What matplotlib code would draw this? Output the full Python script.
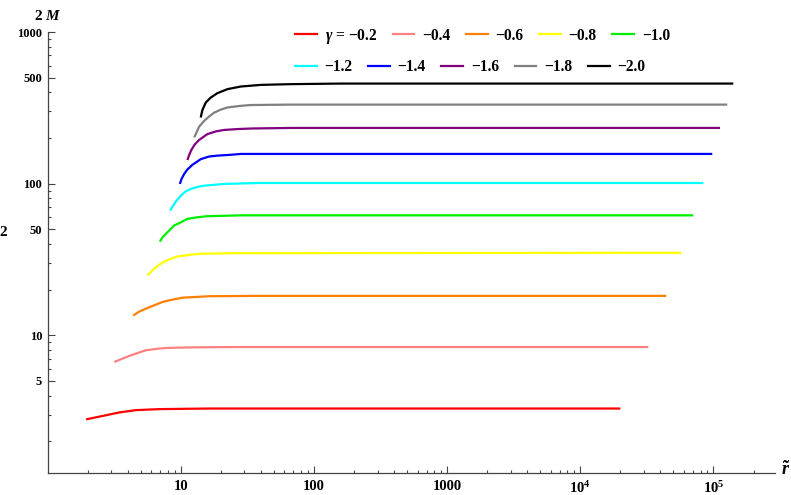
import numpy as np
import matplotlib.pyplot as plt
from matplotlib.ticker import FixedLocator, LogLocator, NullFormatter
from matplotlib.lines import Line2D

plt.rcParams['figure.dpi'] = 100
plt.rcParams['font.family'] = ['Liberation Serif', 'DejaVu Serif']
plt.rcParams['font.weight'] = 'bold'
plt.rcParams['mathtext.fontset'] = 'custom'
plt.rcParams['mathtext.rm'] = 'Liberation Serif:bold'
plt.rcParams['mathtext.bf'] = 'Liberation Serif:bold'
plt.rcParams['mathtext.it'] = 'Liberation Serif:italic:bold'

# gamma values and colours of the curves
gammas = [-0.2, -0.4, -0.6, -0.8, -1.0, -1.2, -1.4, -1.6, -1.8, -2.0]
colors = ['red', '#ff8080', '#ff8000', 'yellow', '#00ee00',
          'cyan', 'blue', 'purple', 'gray', 'black']

# r values
r_02 = [1.94, 2.59, 3.45, 4.59, 6.87, 16.3, 2.0e4]
r_04 = [3.16, 4.10, 4.68, 5.47, 6.49, 7.72, 12.2, 29.0, 3.24e4]
r_06 = [4.39, 4.84, 5.47, 7.30, 8.41, 10.3, 16.3, 38.6, 4.42e4]
r_08 = [5.62, 6.27, 7.08, 8.13, 9.44, 11.5, 14.1, 25.1, 5.73e4]
r_10 = [6.96, 7.29, 7.72, 8.31, 8.91, 10.0, 11.2, 13.3, 15.8, 28.2, 7.05e4]
r_12 = [8.31, 8.66, 9.17, 10.0, 10.9, 11.9, 13.3, 15.0, 21.1, 37.6, 8.4e4]
r_14 = [9.83, 10.1, 10.6, 11.2, 12.2, 14.1, 16.3, 18.8, 23.7, 28.2, 66.8, 9.8e4]
r_16 = [11.2, 11.5, 12.0, 12.7, 13.7, 15.8, 18.3, 21.1, 26.6, 33.5, 66.8, 1.12e5]
r_18 = [12.6, 13.0, 13.7, 15.0, 16.3, 17.8, 20.0, 22.4, 28.2, 33.5, 66.8, 1.27e5]
r_20 = [14.1, 14.5, 15.4, 16.8, 18.8, 22.4, 28.2, 39.8, 66.8, 158, 1.41e5]

# 2M values
m_02 = [2.79, 2.94, 3.10, 3.21, 3.26, 3.29, 3.29]
m_04 = [6.67, 7.31, 7.62, 7.97, 8.13, 8.25, 8.33, 8.37, 8.37]
m_06 = [13.5, 14.3, 15.0, 16.6, 17.1, 17.7, 18.1, 18.2, 18.2]
m_08 = [24.8, 27.4, 29.7, 31.6, 33.1, 33.9, 34.5, 34.8, 35.0]
m_10 = [41.5, 44.3, 46.7, 49.8, 53.0, 55.6, 58.6, 60.0, 61.0, 61.8, 61.8]
m_12 = [66.4, 70.6, 76.2, 83.4, 89.0, 92.3, 95.1, 97.0, 99.5, 101, 101]
m_14 = [99.5, 107, 116, 124, 133, 145, 151, 153, 155, 157, 157, 157]
m_16 = [143, 153, 167, 181, 194, 212, 221, 226, 229, 231, 233, 233]
m_18 = [202, 214, 237, 260, 277, 294, 308, 318, 326, 330, 332, 332]
m_20 = [273, 305, 343, 370, 395, 420, 437, 448, 453, 457, 457]

R = [r_02, r_04, r_06, r_08, r_10, r_12, r_14, r_16, r_18, r_20]
M = [m_02, m_04, m_06, m_08, m_10, m_12, m_14, m_16, m_18, m_20]

fig = plt.figure(figsize=(7.91, 4.95))
ax = fig.add_axes([47.7 / 791, 1 - 473 / 495, (775 - 47.7) / 791, (473 - 32) / 495])

for r, m, c in zip(R, M, colors):
    ax.plot(r, m, color=c, lw=1.6, solid_capstyle='butt', solid_joinstyle='round')

ax.set_xscale('log')
ax.set_yscale('log')
ax.set_xlim(1.0, 2.9e5)
ax.set_ylim(1.236, 1000)

for s in ['top', 'right']:
    ax.spines[s].set_visible(False)
for s in ['left', 'bottom']:
    ax.spines[s].set_color('#444444')
    ax.spines[s].set_linewidth(0.9)

ax.xaxis.set_major_locator(FixedLocator([10, 100, 1000, 1e4, 1e5]))
ax.set_xticklabels(['10', '100', '1000', '$10^4$', '$10^5$'], fontsize=10.5)
ax.xaxis.set_minor_locator(LogLocator(base=10, subs=np.arange(2, 10)))
ax.xaxis.set_minor_formatter(NullFormatter())

ax.yaxis.set_major_locator(FixedLocator([5, 10, 50, 100, 500, 1000]))
ax.set_yticklabels(['5', '10', '50', '100', '500', '1000'], fontsize=9)
ax.yaxis.set_minor_locator(LogLocator(base=10, subs=np.arange(1, 10)))
ax.yaxis.set_minor_formatter(NullFormatter())

ax.tick_params(which='both', direction='in', color='#444444', width=0.8)
ax.tick_params(which='major', length=5)
ax.tick_params(which='minor', length=2.5)
ax.tick_params(axis='x', pad=5)
ax.tick_params(axis='y', pad=4)

# axis labels
fig.text(38 / 791, 1 - 16 / 495, '2', fontsize=11, ha='center', va='center')
fig.text(52 / 791, 1 - 16 / 495, 'M', fontsize=11, ha='center', va='center', style='italic')
fig.text(786 / 791, 1 - 470 / 495, r'$\tilde{r}$', fontsize=13, ha='center', va='center')
fig.text(3 / 791, 1 - 233 / 495, '2', fontsize=11, ha='center', va='center')

# legend in two rows like the original
labels = [r'$\gamma$ = −0.2'] + ['−%.1f' % abs(g) for g in gammas[1:]]
handles = [Line2D([], [], color=c, lw=1.6) for c in colors]
kw = dict(frameon=False, ncol=5, fontsize=11.2, handlelength=1.4, handletextpad=0.5,
          columnspacing=1.0, borderpad=0, borderaxespad=0, loc='center left',
          bbox_transform=fig.transFigure)
leg1 = ax.legend(handles[:5], labels[:5], bbox_to_anchor=(295 / 791, 1 - 36 / 495), **kw)
ax.add_artist(leg1)
ax.legend(handles[5:], labels[5:], bbox_to_anchor=(295 / 791, 1 - 67 / 495), **kw)

plt.savefig('out.png', dpi=100)
